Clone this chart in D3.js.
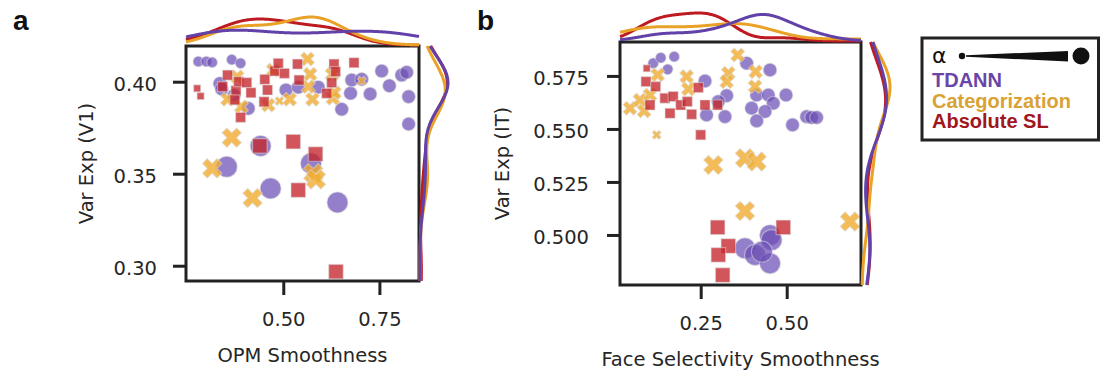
<!DOCTYPE html>
<html>
<head>
<meta charset="utf-8">
<script src="https://cdn.jsdelivr.net/npm/d3@7"></script>
<style>
  body { margin: 0; background: #fff; }
  svg text { font-family: "DejaVu Sans", sans-serif; fill: #262626; }
</style>
</head>
<body>
<svg id="fig" width="1101" height="374"></svg>
<script>
// Model order: TDANN, Categorization, Absolute SL
const modelNames = ["TDANN", "Categorization", "Absolute SL"];

// Panel a: [OPM smoothness, variance explained (V1), alpha level]
const a_tdann = [
  [0.279,0.411,1],[0.300,0.411,1],[0.315,0.4105,1],[0.366,0.412,1],[0.389,0.410,1],
  [0.335,0.399,2],[0.340,0.396,2],[0.372,0.3925,2],[0.409,0.3855,2],[0.507,0.3955,2],[0.539,0.397,2],
  [0.591,0.397,2],[0.652,0.385,2],[0.675,0.3937,2],[0.678,0.4009,2],[0.704,0.4013,2],
  [0.726,0.3933,2],[0.756,0.4058,2],[0.776,0.3978,2],[0.808,0.4036,2],[0.821,0.4051,2],
  [0.826,0.3919,2],[0.826,0.377,2],
  [0.441,0.3651,3],[0.353,0.3538,3],[0.572,0.3556,3],[0.467,0.342,3],[0.641,0.3344,3]
];
const a_cat = [
  [0.366,0.3696,3],[0.315,0.3529,3],[0.578,0.3502,3],[0.585,0.3469,3],[0.420,0.3368,3],
  [0.563,0.4123,2],[0.570,0.4041,2],[0.565,0.3973,2],[0.576,0.3904,2],[0.627,0.404,2],
  [0.629,0.391,2],[0.633,0.394,2],[0.704,0.4004,1],[0.517,0.3904,2],[0.490,0.3895,1],
  [0.461,0.3873,2],[0.391,0.3864,2],[0.355,0.3904,2],[0.380,0.4027,2],[0.474,0.4063,2]
];
const a_sl = [
  [0.276,0.3964,1],[0.285,0.3922,1],[0.355,0.4036,2],[0.342,0.3973,2],[0.377,0.3951,2],
  [0.384,0.400,2],[0.405,0.3995,2],[0.374,0.3901,2],[0.416,0.394,2],[0.389,0.3806,2],
  [0.452,0.4013,2],[0.459,0.3955,2],[0.450,0.3891,2],[0.478,0.4058,2],[0.487,0.410,2],
  [0.503,0.4045,2],[0.537,0.4096,2],[0.541,0.4009,2],[0.613,0.3937,2],[0.626,0.3995,2],
  [0.632,0.4096,2],[0.636,0.4055,2],[0.684,0.4103,2],
  [0.439,0.3651,3],[0.526,0.3674,3],[0.584,0.3607,3],[0.539,0.3411,3],[0.637,0.2968,3]
];

// Panel b: [face selectivity smoothness, variance explained (IT), alpha level]
const b_tdann = [
  [0.112,0.581,1],[0.134,0.5836,1],[0.173,0.5841,1],[0.154,0.5781,1],
  [0.2625,0.5726,2],[0.3255,0.5657,2],[0.301,0.5629,2],[0.267,0.5566,2],[0.3206,0.5558,2],
  [0.3836,0.581,2],[0.4515,0.5778,2],[0.4127,0.566,2],[0.4466,0.566,2],[0.461,0.5621,2],
  [0.498,0.566,2],[0.398,0.5598,2],[0.437,0.5582,2],[0.4127,0.5538,2],[0.517,0.5519,2],
  [0.558,0.5558,2],[0.5726,0.5554,2],[0.587,0.5554,2],
  [0.3788,0.4937,3],[0.408,0.4906,3],[0.4515,0.4999,3],[0.456,0.4976,3],[0.4515,0.4866,3],[0.428,0.4921,3]
];
const b_cat = [
  [0.0445,0.5598,2],[0.0855,0.5585,2],[0.0735,0.5636,2],[0.122,0.5472,1],[0.125,0.5755,2],[0.2092,0.5747,2],
  [0.214,0.5688,2],[0.3303,0.5763,2],[0.3255,0.5723,2],[0.3575,0.5849,2],[0.4098,0.577,2],
  [0.408,0.570,2],[0.1026,0.5660,2],
  [0.2867,0.533,3],[0.3788,0.5362,3],[0.4127,0.5346,3],[0.3788,0.5113,3],[0.684,0.5063,3]
];
const b_sl = [
  [0.093,0.5786,1],[0.091,0.5723,2],[0.119,0.570,2],[0.1026,0.5613,2],[0.146,0.5645,2],
  [0.1608,0.5574,2],[0.170,0.5653,2],[0.1918,0.5613,2],[0.211,0.5629,2],[0.2237,0.5569,2],
  [0.2431,0.5695,2],[0.2625,0.5613,2],[0.2993,0.5613,2],[0.25,0.5472,2],
  [0.2993,0.5036,3],[0.3303,0.4948,3],[0.3013,0.4906,3],[0.3139,0.4811,3],[0.4902,0.5036,3]
];

// Tick values
const aXTicks = [0.50, 0.75];
const aYTicks = [0.30, 0.35, 0.40];
const bXTicks = [0.25, 0.50];
const bYTicks = [0.500, 0.525, 0.550, 0.575];

// Styling per model
const lineColors = ["#6242a8", "#e9a227", "#bd1b21"];
const markFills  = ["#6b4eb5", "#f0ab2e", "#c4252c"];
const markOpac   = [0.72, 0.8, 0.78];
const legendColors = ["#6a45a8", "#d8a234", "#a1161d"];
const symbols = [d3.symbolCircle, d3.symbolCross, d3.symbolSquare];
const symbolArea = [[0, 88, 145, 346], [0, 51, 122, 238], [0, 49, 100, 210]];

const panels = [
  { letter: "a", letterX: 13, xTitle: "OPM Smoothness", yTitle: "Var Exp (V1)",
    box: { x0: 186, x1: 419, y0: 46, y1: 281 },
    xDomain: [0.247, 0.853], yDomain: [0.2917, 0.4194],
    xTicks: aXTicks, yTicks: aYTicks, xFmt: ".2f", yFmt: ".2f",
    series: [a_tdann, a_cat, a_sl], yTitleX: 93, yPad: 16 },
  { letter: "b", letterX: 477, xTitle: "Face Selectivity Smoothness", yTitle: "Var Exp (IT)",
    box: { x0: 620, x1: 861, y0: 42, y1: 285 },
    xDomain: [0.0154, 0.716], yDomain: [0.4764, 0.591],
    xTicks: bXTicks, yTicks: bYTicks, xFmt: ".2f", yFmt: ".3f",
    series: [b_tdann, b_cat, b_sl], yTitleX: 509, yPad: 18 }
];

const svg = d3.select("#fig");
const FS = 19.5;
const MARGINAL_H = 28;

// Gaussian KDE with Scott's bandwidth
function kde(values, grid) {
  const n = values.length;
  const bw = d3.deviation(values) * Math.pow(n, -0.2);
  const c = 1 / (n * bw * Math.sqrt(2 * Math.PI));
  return grid.map(g => c * d3.sum(values, v => Math.exp(-0.5 * ((g - v) / bw) ** 2)));
}

panels.forEach((p, pi) => {
  const b = p.box;
  const x = d3.scaleLinear().domain(p.xDomain).range([b.x0, b.x1]);
  const y = d3.scaleLinear().domain(p.yDomain).range([b.y1, b.y0]);
  const g = svg.append("g");

  // panel letter
  g.append("text").attr("x", p.letterX).attr("y", 30)
    .style("font-family", "'Liberation Sans', Arial, sans-serif")
    .style("font-weight", "bold").style("font-size", "28px").style("fill", "#111")
    .text(p.letter);

  // clip for scatter marks
  const clipId = "clip-" + p.letter;
  g.append("clipPath").attr("id", clipId).append("rect")
    .attr("x", b.x0).attr("y", b.y0).attr("width", b.x1 - b.x0).attr("height", b.y1 - b.y0);

  const marks = g.append("g").attr("clip-path", `url(#${clipId})`);
  [0, 1, 2].forEach(mi => {
    const sym = symbols[mi];
    marks.append("g").selectAll("path").data(p.series[mi]).join("path")
      .attr("d", d => d3.symbol(sym, symbolArea[mi][d[2]])())
      .attr("transform", d => `translate(${x(d[0])},${y(d[1])})` + (mi === 1 ? " rotate(45)" : ""))
      .attr("fill", markFills[mi]).attr("fill-opacity", markOpac[mi])
      .attr("stroke", "#ddd").attr("stroke-opacity", 0.5).attr("stroke-width", 1.2);
  });

  // axes
  const xAxis = g.append("g").attr("transform", `translate(0,${b.y1})`)
    .call(d3.axisBottom(x).tickValues(p.xTicks).tickFormat(d3.format(p.xFmt)).tickSize(14).tickPadding(17));
  const yAxis = g.append("g").attr("transform", `translate(${b.x0},0)`)
    .call(d3.axisLeft(y).tickValues(p.yTicks).tickFormat(d3.format(p.yFmt)).tickSize(13).tickPadding(p.yPad));
  [xAxis, yAxis].forEach(ax => {
    ax.select(".domain").remove();
    ax.selectAll(".tick line").attr("stroke", "#222").attr("stroke-width", 3);
    ax.selectAll(".tick text").style("font-size", FS + "px").attr("fill", "#262626");
  });
  yAxis.selectAll(".tick text").attr("dy", "0.45em");

  // axis titles
  g.append("text").attr("x", (b.x0 + b.x1) / 2).attr("y", b.y1 + 81)
    .attr("text-anchor", "middle").style("font-size", FS + "px").text(p.xTitle);
  g.append("text").attr("transform", `translate(${p.yTitleX},${(b.y0 + b.y1) / 2}) rotate(-90)`)
    .attr("text-anchor", "middle").style("font-size", FS + "px").text(p.yTitle);

  // frame
  g.append("rect").attr("x", b.x0).attr("y", b.y0)
    .attr("width", b.x1 - b.x0).attr("height", b.y1 - b.y0)
    .attr("fill", "none").attr("stroke", "#222").attr("stroke-width", 3);

  // marginal density curves
  const gx = d3.range(201).map(i => p.xDomain[0] + (p.xDomain[1] - p.xDomain[0]) * i / 200);
  const gy = d3.range(201).map(i => p.yDomain[0] + (p.yDomain[1] - p.yDomain[0]) * i / 200);
  const dx = p.series.map(s => kde(s.map(d => d[0]), gx));
  const dy = p.series.map(s => kde(s.map(d => d[1]), gy));
  const hx = d3.scaleLinear().domain([0, d3.max(dx.flat())]).range([0, MARGINAL_H]);
  const hy = d3.scaleLinear().domain([0, d3.max(dy.flat())]).range([0, MARGINAL_H]);
  const order = [2, 1, 0];
  order.forEach(mi => {
    g.append("path")
      .attr("d", d3.line().curve(d3.curveBasis)
        .x((v, i) => x(gx[i])).y(v => b.y0 - 1 - hx(v))(dx[mi]))
      .attr("fill", "none").attr("stroke", lineColors[mi]).attr("stroke-width", 3);
    g.append("path")
      .attr("d", d3.line().curve(d3.curveBasis)
        .x(v => b.x1 + 1 + hy(v)).y((v, i) => y(gy[i]))(dy[mi]))
      .attr("fill", "none").attr("stroke", lineColors[mi]).attr("stroke-width", 3);
  });
});

// legend
const lg = svg.append("g");
lg.append("rect").attr("x", 922).attr("y", 38).attr("width", 176.5).attr("height", 102)
  .attr("fill", "#fff").attr("stroke", "#222").attr("stroke-width", 3);
lg.append("text").attr("x", 932).attr("y", 63)
  .style("font-family", "'DejaVu Sans', sans-serif").style("font-size", "22px").style("fill", "#111")
  .text("α");
lg.append("circle").attr("cx", 962).attr("cy", 56).attr("r", 3.2).attr("fill", "#111");
lg.append("path").attr("d", d3.line()([[966, 55.3], [1068, 51], [1068, 61.5], [966, 56.7]]) + "Z")
  .attr("fill", "#111");
lg.append("circle").attr("cx", 1081).attr("cy", 56).attr("r", 8.5).attr("fill", "#111");
modelNames.forEach((name, i) => {
  lg.append("text").attr("x", 932).attr("y", 87 + i * 20.5)
    .style("font-family", "'Liberation Sans', Arial, sans-serif")
    .style("font-weight", "bold").style("font-size", "20px")
    .style("fill", legendColors[i]).text(name);
});
</script>
</body>
</html>
